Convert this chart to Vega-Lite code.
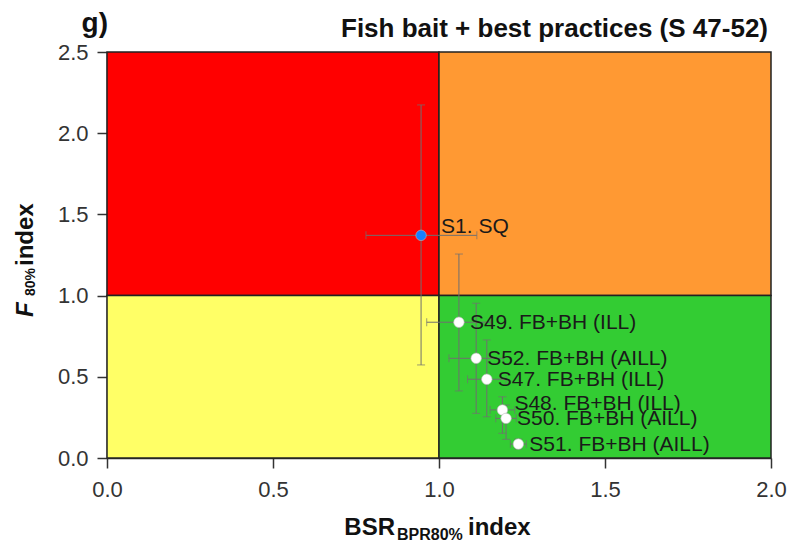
{
  "$schema": "https://vega.github.io/schema/vega-lite/v6.json",
  "width": 664,
  "height": 406,
  "autosize": {"type": "none"},
  "padding": {"left": 107, "top": 52, "right": 16, "bottom": 85},
  "background": "white",
  "resolve": {"scale": {"fill": "independent"}},
  "datasets": {
    "zones": [
      {"bsrFrom": 0, "bsrTo": 1, "fFrom": 1, "fTo": 2.5, "zone": "overfished, overfishing"},
      {"bsrFrom": 1, "bsrTo": 2, "fFrom": 1, "fTo": 2.5, "zone": "not overfished, overfishing"},
      {"bsrFrom": 0, "bsrTo": 1, "fFrom": 0, "fTo": 1, "zone": "overfished, no overfishing"},
      {"bsrFrom": 1, "bsrTo": 2, "fFrom": 0, "fTo": 1, "zone": "not overfished, no overfishing"}
    ],
    "scenarios": [
      {"id": "S1", "label": "S1. SQ", "group": "status quo", "bsr": 0.946, "f": 1.371, "bsrLo": 0.780, "bsrHi": 1.114, "fLo": 0.573, "fHi": 2.174},
      {"id": "S49", "label": "S49. FB+BH (ILL)", "group": "fish bait", "bsr": 1.060, "f": 0.836, "bsrLo": 0.963, "bsrHi": 1.157, "fLo": 0.413, "fHi": 1.256},
      {"id": "S52", "label": "S52. FB+BH (AILL)", "group": "fish bait", "bsr": 1.112, "f": 0.614, "bsrLo": 1.030, "bsrHi": 1.194, "fLo": 0.275, "fHi": 0.953},
      {"id": "S47", "label": "S47. FB+BH (ILL)", "group": "fish bait", "bsr": 1.144, "f": 0.485, "bsrLo": 1.086, "bsrHi": 1.202, "fLo": 0.254, "fHi": 0.727},
      {"id": "S48", "label": "S48. FB+BH (ILL)", "group": "fish bait", "bsr": 1.191, "f": 0.296, "bsrLo": 1.154, "bsrHi": 1.228, "fLo": 0.152, "fHi": 0.377},
      {"id": "S50", "label": "S50. FB+BH (AILL)", "group": "fish bait", "bsr": 1.202, "f": 0.244, "bsrLo": 1.171, "bsrHi": 1.233, "fLo": 0.115, "fHi": 0.326},
      {"id": "S51", "label": "S51. FB+BH (AILL)", "group": "fish bait", "bsr": 1.239, "f": 0.086, "bsrLo": 1.215, "bsrHi": 1.263, "fLo": 0.055, "fHi": 0.117}
    ],
    "anchor": [{}]
  },
  "layer": [
    {
      "data": {"name": "zones"},
      "mark": {"type": "rect", "stroke": "#222222", "strokeWidth": 1.5},
      "encoding": {
        "x": {"field": "bsrFrom", "type": "quantitative", "title": null,
              "scale": {"domain": [0, 2], "nice": false, "zero": false},
              "axis": {"values": [0, 0.5, 1, 1.5, 2], "format": ".1f"}},
        "x2": {"field": "bsrTo"},
        "y": {"field": "fFrom", "type": "quantitative", "title": null,
              "scale": {"domain": [0, 2.5], "nice": false, "zero": false},
              "axis": {"values": [0, 0.5, 1, 1.5, 2, 2.5], "format": ".1f"}},
        "y2": {"field": "fTo"},
        "fill": {"field": "zone", "type": "nominal", "legend": null,
                 "scale": {"domain": ["overfished, overfishing", "not overfished, overfishing", "overfished, no overfishing", "not overfished, no overfishing"],
                           "range": ["#FF0000", "#FF9933", "#FFFF66", "#33CC33"]}}
      }
    },
    {
      "data": {"name": "scenarios"},
      "mark": {"type": "rule", "color": "#707070", "strokeWidth": 1},
      "encoding": {
        "x": {"field": "bsr", "type": "quantitative", "title": null},
        "y": {"field": "fLo", "type": "quantitative", "title": null},
        "y2": {"field": "fHi"}
      }
    },
    {
      "data": {"name": "scenarios"},
      "mark": {"type": "rule", "color": "#707070", "strokeWidth": 1},
      "encoding": {
        "x": {"field": "bsrLo", "type": "quantitative", "title": null},
        "x2": {"field": "bsrHi"},
        "y": {"field": "f", "type": "quantitative", "title": null}
      }
    },
    {
      "data": {"name": "scenarios"},
      "transform": [{"fold": ["fLo", "fHi"], "as": ["end", "fEnd"]}],
      "mark": {"type": "tick", "orient": "horizontal", "color": "#707070", "size": 8, "thickness": 1},
      "encoding": {
        "x": {"field": "bsr", "type": "quantitative", "title": null},
        "y": {"field": "fEnd", "type": "quantitative", "title": null}
      }
    },
    {
      "data": {"name": "scenarios"},
      "transform": [{"fold": ["bsrLo", "bsrHi"], "as": ["end", "bsrEnd"]}],
      "mark": {"type": "tick", "orient": "vertical", "color": "#707070", "size": 8, "thickness": 1},
      "encoding": {
        "x": {"field": "bsrEnd", "type": "quantitative", "title": null},
        "y": {"field": "f", "type": "quantitative", "title": null}
      }
    },
    {
      "data": {"name": "scenarios"},
      "mark": {"type": "circle", "size": 110, "opacity": 1, "stroke": "#bbbbbb", "strokeWidth": 0.6},
      "encoding": {
        "x": {"field": "bsr", "type": "quantitative", "title": null},
        "y": {"field": "f", "type": "quantitative", "title": null},
        "fill": {"field": "group", "type": "nominal", "legend": null,
                 "scale": {"domain": ["status quo", "fish bait"], "range": ["#1580FF", "#FFFFFF"]}}
      }
    },
    {
      "data": {"name": "scenarios"},
      "transform": [{"filter": "datum.id !== 'S1' && datum.id !== 'S48'"}],
      "mark": {"type": "text", "align": "left", "baseline": "middle", "dx": 11, "dy": 1,
               "font": "Liberation Sans", "fontSize": 21, "color": "#1a1a1a"},
      "encoding": {
        "x": {"field": "bsr", "type": "quantitative", "title": null},
        "y": {"field": "f", "type": "quantitative", "title": null},
        "text": {"field": "label"}
      }
    },
    {
      "data": {"name": "scenarios"},
      "transform": [{"filter": "datum.id === 'S1'"}],
      "mark": {"type": "text", "align": "left", "baseline": "middle", "dx": 20, "dy": -8,
               "font": "Liberation Sans", "fontSize": 21, "color": "#1a1a1a"},
      "encoding": {
        "x": {"field": "bsr", "type": "quantitative", "title": null},
        "y": {"field": "f", "type": "quantitative", "title": null},
        "text": {"field": "label"}
      }
    },
    {
      "data": {"name": "scenarios"},
      "transform": [{"filter": "datum.id === 'S48'"}],
      "mark": {"type": "text", "align": "left", "baseline": "middle", "dx": 12, "dy": -6,
               "font": "Liberation Sans", "fontSize": 21, "color": "#1a1a1a"},
      "encoding": {
        "x": {"field": "bsr", "type": "quantitative", "title": null},
        "y": {"field": "f", "type": "quantitative", "title": null},
        "text": {"field": "label"}
      }
    },
    {
      "data": {"name": "anchor"},
      "mark": {"type": "text", "text": "Fish bait + best practices (S 47-52)", "align": "right", "baseline": "alphabetic", "dx": -3, "dy": -15,
               "font": "Liberation Sans", "fontSize": 26, "fontWeight": "bold", "color": "#111111"},
      "encoding": {
        "x": {"datum": 2, "type": "quantitative"},
        "y": {"datum": 2.5, "type": "quantitative"}
      }
    },
    {
      "data": {"name": "anchor"},
      "mark": {"type": "text", "text": "g)", "align": "right", "baseline": "alphabetic", "dx": 1, "dy": -20,
               "font": "Liberation Sans", "fontSize": 28, "fontWeight": "bold", "color": "#111111"},
      "encoding": {
        "x": {"datum": 0, "type": "quantitative"},
        "y": {"datum": 2.5, "type": "quantitative"}
      }
    },
    {
      "data": {"name": "anchor"},
      "mark": {"type": "text", "text": "BSR", "align": "right", "baseline": "alphabetic", "dx": -44, "dy": 77,
               "font": "Liberation Sans", "fontSize": 24, "fontWeight": "bold", "color": "#111111"},
      "encoding": {
        "x": {"datum": 1, "type": "quantitative"},
        "y": {"datum": 0, "type": "quantitative"}
      }
    },
    {
      "data": {"name": "anchor"},
      "mark": {"type": "text", "text": "BPR80%", "align": "left", "baseline": "alphabetic", "dx": -42, "dy": 82,
               "font": "Liberation Sans", "fontSize": 16, "fontWeight": "bold", "color": "#111111"},
      "encoding": {
        "x": {"datum": 1, "type": "quantitative"},
        "y": {"datum": 0, "type": "quantitative"}
      }
    },
    {
      "data": {"name": "anchor"},
      "mark": {"type": "text", "text": "index", "align": "left", "baseline": "alphabetic", "dx": 29, "dy": 77,
               "font": "Liberation Sans", "fontSize": 24, "fontWeight": "bold", "color": "#111111"},
      "encoding": {
        "x": {"datum": 1, "type": "quantitative"},
        "y": {"datum": 0, "type": "quantitative"}
      }
    },
    {
      "data": {"name": "anchor"},
      "mark": {"type": "text", "text": "F", "angle": 270, "align": "left", "baseline": "alphabetic", "dx": -62, "dy": -74,
               "font": "Liberation Sans", "fontSize": 24, "fontWeight": "bold", "fontStyle": "italic", "color": "#111111"},
      "encoding": {
        "x": {"datum": 0, "type": "quantitative"},
        "y": {"datum": 1.25, "type": "quantitative"}
      }
    },
    {
      "data": {"name": "anchor"},
      "mark": {"type": "text", "text": "80%", "angle": 270, "align": "left", "baseline": "alphabetic", "dx": -41, "dy": -72,
               "font": "Liberation Sans", "fontSize": 14, "fontWeight": "bold", "color": "#111111"},
      "encoding": {
        "x": {"datum": 0, "type": "quantitative"},
        "y": {"datum": 1.25, "type": "quantitative"}
      }
    },
    {
      "data": {"name": "anchor"},
      "mark": {"type": "text", "text": "index", "angle": 270, "align": "left", "baseline": "alphabetic", "dx": -11, "dy": -74,
               "font": "Liberation Sans", "fontSize": 24, "fontWeight": "bold", "color": "#111111"},
      "encoding": {
        "x": {"datum": 0, "type": "quantitative"},
        "y": {"datum": 1.25, "type": "quantitative"}
      }
    }
  ],
  "config": {
    "view": {"stroke": null},
    "axis": {
      "grid": false,
      "labelFlush": false,
      "domainColor": "#333333",
      "domainWidth": 1.5,
      "tickColor": "#333333",
      "tickWidth": 1.5,
      "tickSize": 10,
      "labelFont": "Liberation Sans",
      "labelFontSize": 22,
      "labelColor": "#333333",
      "labelPadding": 9
    },
    "axisX": {"labelPadding": 11}
  }
}
